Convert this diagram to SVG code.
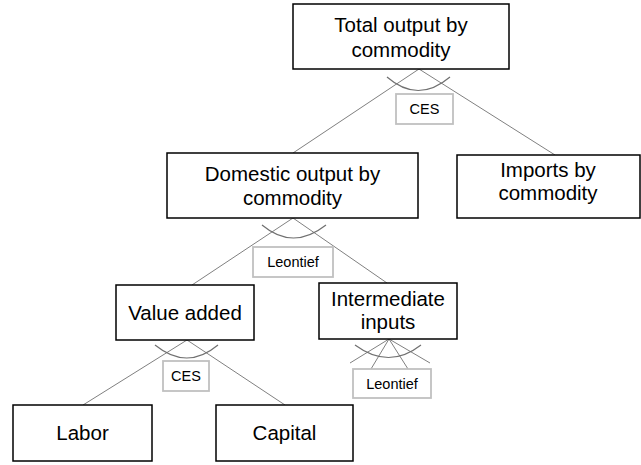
<svg xmlns="http://www.w3.org/2000/svg" width="641" height="465" viewBox="0 0 641 465">
<style>
.box{fill:#fff;stroke:#000;stroke-width:1.5}
.lbl{fill:#fff;stroke:#c0c0c0;stroke-width:1.8}
.t{font-family:"Liberation Sans",Arial,sans-serif;font-size:20.5px;fill:#000;text-anchor:middle}
.s{font-family:"Liberation Sans",Arial,sans-serif;font-size:14.5px;fill:#000;text-anchor:middle}
.ln{stroke:#808080;stroke-width:1;fill:none}
.arc{stroke:#707070;stroke-width:1.2;fill:none}
</style>
<rect width="641" height="465" fill="#fff"/>
<g id="connectors">
<line class="ln" x1="419" y1="69" x2="293" y2="153"/>
<line class="ln" x1="419" y1="69" x2="555" y2="155"/>
<path class="arc" d="M387 77 Q418 104 450 77"/>
<line class="ln" x1="293" y1="218" x2="192" y2="285"/>
<line class="ln" x1="293" y1="218" x2="387" y2="283"/>
<path class="arc" d="M262 225 Q293 251 326 225"/>
<line class="ln" x1="187" y1="340" x2="83" y2="405"/>
<line class="ln" x1="187" y1="340" x2="285" y2="405"/>
<path class="arc" d="M155 345 Q187 371 218 345"/>
<line class="ln" x1="389" y1="339" x2="350" y2="363"/>
<line class="ln" x1="389" y1="339" x2="430" y2="363"/>
<line class="ln" x1="389" y1="339" x2="371" y2="369"/>
<line class="ln" x1="389" y1="339" x2="408" y2="369"/>
<path class="arc" d="M355 345 Q389 370 421 345"/>
</g>
<g id="total">
<rect class="box" x="293" y="4" width="216" height="65"/>
<text class="t" x="401" y="32">Total output by</text>
<text class="t" x="401" y="57">commodity</text>
</g>
<g id="ces1">
<rect class="lbl" x="396" y="94" width="57" height="30"/>
<text class="s" x="424.5" y="114">CES</text>
</g>
<g id="domestic">
<rect class="box" x="167" y="153" width="251" height="65"/>
<text class="t" x="292.5" y="181">Domestic output by</text>
<text class="t" x="292.5" y="205">commodity</text>
</g>
<g id="imports">
<rect class="box" x="457" y="155" width="183" height="63"/>
<text class="t" x="548" y="177">Imports by</text>
<text class="t" x="548" y="200">commodity</text>
</g>
<g id="leontief1">
<rect class="lbl" x="253" y="247" width="80" height="30"/>
<text class="s" x="293" y="267">Leontief</text>
</g>
<g id="valueadded">
<rect class="box" x="116" y="285" width="138" height="55"/>
<text class="t" x="185" y="320">Value added</text>
</g>
<g id="intermediate">
<rect class="box" x="319" y="283" width="138" height="56"/>
<text class="t" x="388" y="306">Intermediate</text>
<text class="t" x="388" y="329">inputs</text>
</g>
<g id="ces2">
<rect class="lbl" x="163" y="361" width="46" height="30"/>
<text class="s" x="186" y="381">CES</text>
</g>
<g id="leontief2">
<rect class="lbl" x="353" y="369" width="78" height="29"/>
<text class="s" x="392" y="389">Leontief</text>
</g>
<g id="labor">
<rect class="box" x="13" y="405" width="139" height="56"/>
<text class="t" x="82.5" y="440">Labor</text>
</g>
<g id="capital">
<rect class="box" x="216" y="405" width="137" height="56"/>
<text class="t" x="284.5" y="440">Capital</text>
</g>
</svg>
